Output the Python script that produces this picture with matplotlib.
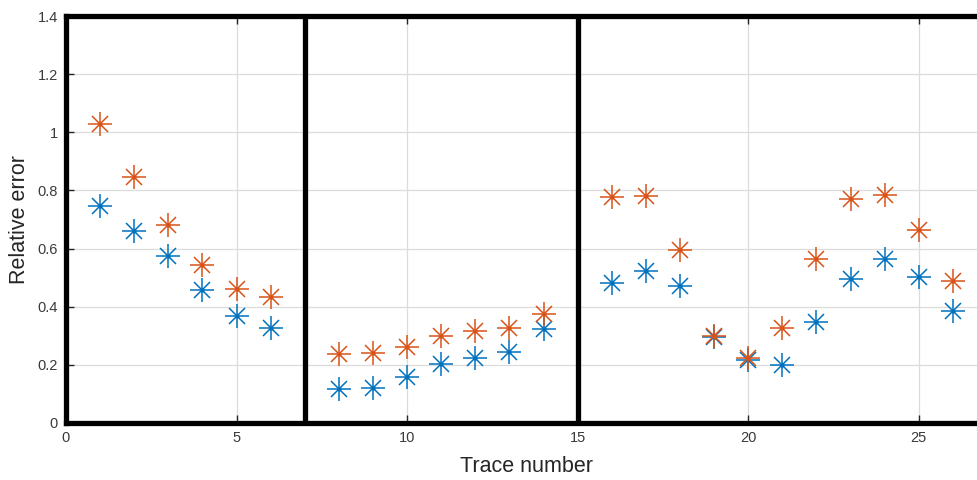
import matplotlib.pyplot as plt

plt.rcParams['font.family'] = ['Liberation Sans', 'DejaVu Sans']

trace = [1, 2, 3, 4, 5, 6, 8, 9, 10, 11, 12, 13, 14,
         16, 17, 18, 19, 20, 21, 22, 23, 24, 25, 26]
err_orange = [1.028, 0.845, 0.68, 0.542, 0.462, 0.433,
              0.237, 0.24, 0.262, 0.30, 0.318, 0.328, 0.375,
              0.778, 0.781, 0.596, 0.30, 0.224, 0.328, 0.563, 0.77, 0.785, 0.664, 0.49]
err_blue = [0.748, 0.662, 0.576, 0.459, 0.369, 0.328,
            0.118, 0.121, 0.159, 0.203, 0.224, 0.244, 0.323,
            0.482, 0.523, 0.470, 0.297, 0.218, 0.198, 0.348, 0.494, 0.563, 0.502, 0.385]
group_edges = [7, 15]

blue = '#0072BD'
orange = '#D95319'

fig = plt.figure(figsize=(9.77, 4.8), dpi=100)
ax = fig.add_axes([66 / 977, 57 / 480, 921 / 977, 407 / 480])

# MATLAB-like asterisk: a '+' with a shorter 'x' on top
for vals, col in [(err_blue, blue), (err_orange, orange)]:
    ax.plot(trace, vals, linestyle='none', marker='+', markersize=17,
            markeredgewidth=1.1, color=col)
    ax.plot(trace, vals, linestyle='none', marker='x', markersize=12,
            markeredgewidth=1.1, color=col)
    ax.plot(trace, vals, linestyle='none', marker='o', markersize=2,
            color=col)

for xe in group_edges:
    ax.axvline(xe, color='black', linewidth=3.8)

ax.set_xlim(0, 27)
ax.set_ylim(0, 1.4)
ax.set_xticks([0, 5, 10, 15, 20, 25])
ax.set_yticks([0, 0.2, 0.4, 0.6, 0.8, 1.0, 1.2, 1.4])
ax.set_yticklabels(['0', '0.2', '0.4', '0.6', '0.8', '1', '1.2', '1.4'])

ax.grid(True, color='#dcdcdc', linewidth=0.9)
ax.set_axisbelow(True)
for s in ax.spines.values():
    s.set_linewidth(3.8)
    s.set_color('black')

ax.tick_params(direction='in', length=6, width=1, color='#262626',
               labelsize=10.5, labelcolor='#3a3a3a', top=True, right=True,
               pad=6)

ax.set_xlabel('Trace number', fontsize=15.5, color='#262626')
ax.set_ylabel('Relative error', fontsize=15.5, color='#262626')
ax.xaxis.set_label_coords(0.5, -0.082)
ax.yaxis.set_label_coords(-0.039, 0.5)

fig.savefig('out.png', dpi=100)
